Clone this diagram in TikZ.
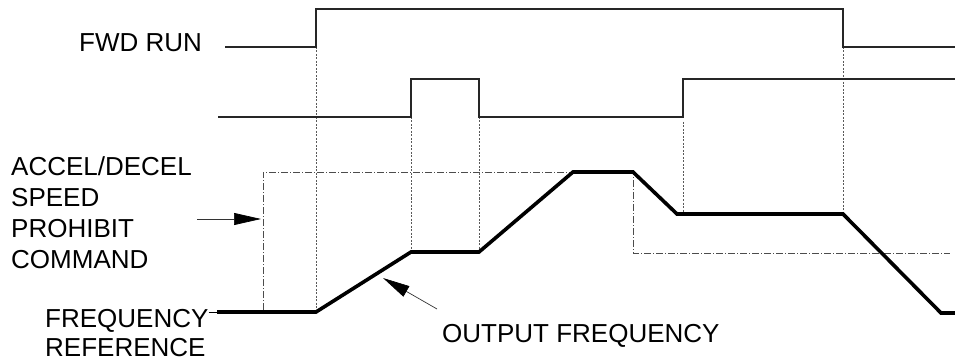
\documentclass[tikz,border=0pt]{standalone}
\usepackage{fontspec}
\setmainfont{Liberation Sans}
\usetikzlibrary{arrows.meta}
\begin{document}
\begin{tikzpicture}[x=1pt,y=-1pt,
  lbl/.style={anchor=base west,inner sep=0pt,font=\fontsize{26}{31}\selectfont},
  sig/.style={line width=1.3pt,black!85},
  outf/.style={line width=3.6pt,line join=miter},
  guide/.style={line width=0.8pt,black!65,dash pattern=on 2pt off 1.5pt},
  cmd/.style={line width=0.8pt,black!70,dash pattern=on 7pt off 2pt on 1pt off 2pt},
  pointer/.style={line width=0.7pt,black!80,-{Triangle[length=27pt,width=12pt,fill=black,color=black]}}]
\useasboundingbox (0,0) rectangle (955,358);
% labels
\node[lbl] (fwd) at (79,52) {FWD RUN};
\node[lbl] (l1) at (11,176) {ACCEL/DECEL};
\node[lbl] (l2) at (11,207) {SPEED};
\node[lbl] (l3) at (11,237) {PROHIBIT};
\node[lbl] (l4) at (11,268) {COMMAND};
\node[lbl] (fr1) at (45,327) {FREQUENCY};
\node[lbl] (fr2) at (45,356) {REFERENCE};
\node[lbl] (of) at (442,342) {OUTPUT FREQUENCY};
% key points
\coordinate (f0) at (225,47);
\coordinate (f1) at (316,47);
\coordinate (f2) at (316,9);
\coordinate (f3) at (843,9);
\coordinate (f4) at (843,47);
\coordinate (f5) at (955,47);
\coordinate (s0) at (218,117);
\coordinate (s1) at (411,117);
\coordinate (s2) at (411,79);
\coordinate (s3) at (479,79);
\coordinate (s4) at (479,117);
\coordinate (s5) at (683,117);
\coordinate (s6) at (683,79);
\coordinate (s7) at (955,79);
\coordinate (o0) at (217,312);
\coordinate (o1) at (316,312);
\coordinate (o2) at (411,252);
\coordinate (o3) at (479,252);
\coordinate (o4) at (573,172);
\coordinate (o5) at (633,172);
\coordinate (o6) at (677,214);
\coordinate (o7) at (843,214);
\coordinate (o8) at (941,313);
\coordinate (o9) at (955,313);
\coordinate (c0) at (263,310);
\coordinate (c1) at (263,172);
\coordinate (c2) at (633,172);
\coordinate (c3) at (633,253);
\coordinate (c4) at (950,253);
\coordinate (a0) at (197,219);
\coordinate (a1) at (261,219);
\coordinate (b0) at (437,309);
\coordinate (b1) at (383,278);
% guide lines
\draw[guide] (f1) -- (o1);
\draw[guide] (s1) -- (o2);
\draw[guide] (s4) -- (o3);
\draw[guide] (683,122) -- (683,214);
\draw[guide] (f4) -- (o7);
% command
\draw[cmd] (c0) -- (c1) -- (c2) -- (c3) -- (c4);
% signals
\draw[sig] (f0) -- (f1) -- (f2) -- (f3) -- (f4) -- (f5);
\draw[sig] (s0) -- (s1) -- (s2) -- (s3) -- (s4) -- (s5) -- (s6) -- (s7);
% output frequency
\draw[line width=0.7pt] (fr1.east |- o0) -- (o0);
\draw[outf] (o0) -- (o1) -- (o2) -- (o3) -- (o4) -- (o5) -- (o6) -- (o7) -- (o8) -- (o9);
% pointers
\draw[pointer] (a0) -- (a1);
\draw[pointer] (b0) -- (b1);
\end{tikzpicture}
\end{document}
